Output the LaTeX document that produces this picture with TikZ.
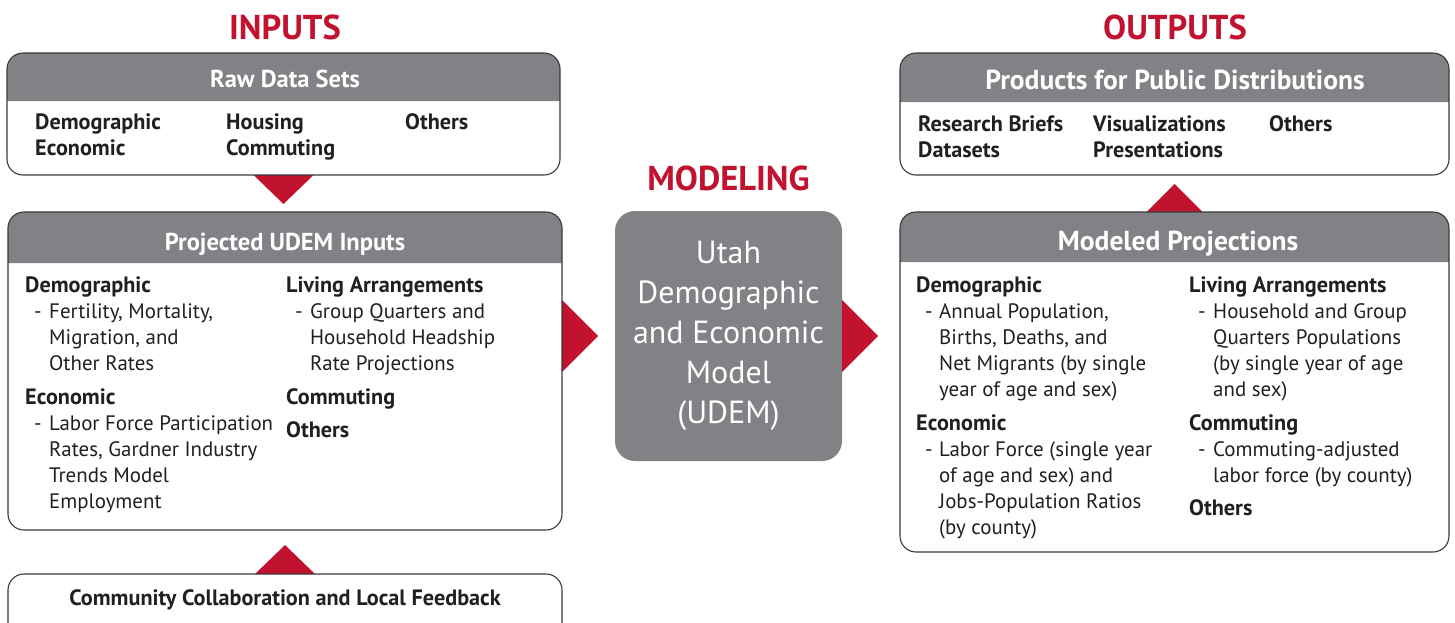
\documentclass[tikz,border=0pt]{standalone}
\usepackage{fontspec}
\setmainfont{PT Sans}
\usetikzlibrary{calc}

\definecolor{hdr}{HTML}{808285}
\definecolor{accent}{HTML}{C1132F}
\definecolor{ink}{HTML}{231F20}
\definecolor{edge}{HTML}{3A3A3A}

% header band with rounded top corners for a box node
\newcommand\headerbar[2]{%
  \fill[hdr] ([yshift=-#2pt]#1.north west) [rounded corners=16pt] -- (#1.north west)
    -- (#1.north east) [sharp corners] -- ([yshift=-#2pt]#1.north east) -- cycle;}
\newcommand\outline[1]{%
  \draw[edge, line width=1.1pt, rounded corners=16pt] (#1.north west) rectangle (#1.south east);}

\begin{document}
\begin{tikzpicture}[x=1pt,y=-1pt,
  box/.style={rectangle, rounded corners=16pt, fill=white, outer sep=0pt, inner sep=0pt},
  pointer/.style={fill=accent},
  title/.style={font=\fontsize{34.5}{38}\selectfont\bfseries, text=accent, anchor=base, inner sep=0pt},
  hdrtext/.style={font=\fontsize{24.5}{28}\selectfont\bfseries, text=white, anchor=base, inner sep=0pt},
  hdrwide/.style={hdrtext, font=\fontsize{27.5}{30}\selectfont\bfseries},
  lbl/.style={font=\fontsize{22.2}{26}\selectfont\bfseries, text=ink, anchor=base west, inner sep=0pt},
  txt/.style={font=\fontsize{20.9}{26}\selectfont, text=ink, anchor=base west, inner sep=0pt}]

\clip (0,0) rectangle (1455,622);

% ---- box bodies ----
\node[box, minimum width=553pt, minimum height=122pt] (raw) at (283.5,114) {};
\node[box, minimum width=554pt, minimum height=318pt] (proj) at (285,371) {};
\node[box, minimum width=554pt, minimum height=80pt] (comm) at (285,614) {};
\node[rectangle, rounded corners=20pt, fill=hdr, outer sep=0pt, inner sep=0pt,
      minimum width=227pt, minimum height=250pt, text=white, align=center,
      font=\fontsize{32}{40}\selectfont] (udem) at (728.5,336)
      {Utah\\Demographic\\and Economic\\Model\\(UDEM)};
\node[box, minimum width=549pt, minimum height=122pt] (prod) at (1174.5,114) {};
\node[box, minimum width=549pt, minimum height=340pt] (model) at (1174.5,382) {};

% ---- red pointers between boxes ----
\fill[pointer] ($(raw.south)+(-30,0)$) -- ($(raw.south)+(30,0)$) -- ($(raw.south)+(0,29)$) -- cycle;
\fill[pointer] ($(comm.north)+(-30,0)$) -- ($(comm.north)+(30,0)$) -- ($(comm.north)+(0,-29)$) -- cycle;
\fill[pointer] ($(proj.east |- udem.west)+(0,-36)$) -- ($(proj.east |- udem.west)+(0,36)$) -- ($(proj.east |- udem.west)+(36,0)$) -- cycle;
\fill[pointer] ($(udem.east)+(0,-36)$) -- ($(udem.east)+(0,36)$) -- ($(udem.east)+(36,0)$) -- cycle;
\fill[pointer] ($(model.north)+(-28,0)$) -- ($(model.north)+(28,0)$) -- ($(model.north)+(0,-28)$) -- cycle;

% ---- header bands and outlines ----
\headerbar{raw}{48}
\headerbar{proj}{51}
\headerbar{prod}{49}
\headerbar{model}{50}
\outline{raw}
\outline{proj}
\outline{comm}
\outline{prod}
\outline{model}

% ---- section titles ----
\node[title] (tin) at (285,39) {INPUTS};
\node[title] (tmod) at (728.5,190) {MODELING};
\node[title] (tout) at (1175,39) {OUTPUTS};

% ---- raw data sets ----
\node[hdrtext] (rawh) at (285,87) {Raw Data Sets};
\node[lbl] (raw1) at (35,129) {\vtop{\hbox{Demographic}\hbox{Economic}}};
\node[lbl] (raw2) at (226,129) {\vtop{\hbox{Housing}\hbox{Commuting}}};
\node[lbl] (raw3) at (405,129) {Others};

% ---- projected inputs ----
\node[hdrtext] (projh) at (285,250) {Projected UDEM Inputs};
\node[lbl] (pdem) at (25,292) {Demographic};
\node[txt] (pdemd) at (34,318) {-};
\node[txt] (pdemt) at (49,318) {\vtop{\hbox{Fertility, Mortality,}\hbox{Migration, and}\hbox{Other Rates}}};
\node[lbl] (peco) at (25,404) {Economic};
\node[txt] (pecod) at (34,430) {-};
\node[txt] (pecot) at (49,430) {\vtop{\hbox{Labor Force Participation}\hbox{Rates, Gardner Industry}\hbox{Trends Model}\hbox{Employment}}};
\node[lbl] (pliv) at (286,292) {Living Arrangements};
\node[txt] (plivd) at (295,318) {-};
\node[txt] (plivt) at (310,318) {\vtop{\hbox{Group Quarters and}\hbox{Household Headship}\hbox{Rate Projections}}};
\node[lbl] (pcom) at (286,404) {Commuting};
\node[lbl] (poth) at (286,437) {Others};

% ---- community feedback ----
\node[lbl, anchor=base] (commt) at (285,605) {Community Collaboration and Local Feedback};

% ---- products ----
\node[hdrwide] (prodh) at (1175,89) {Products for Public Distributions};
\node[lbl] (prod1) at (918,131) {\vtop{\hbox{Research Briefs}\hbox{Datasets}}};
\node[lbl] (prod2) at (1093,131) {\vtop{\hbox{Visualizations}\hbox{Presentations}}};
\node[lbl] (prod3) at (1269,131) {Others};

% ---- modeled projections ----
\node[hdrwide] (modh) at (1178,250) {Modeled Projections};
\node[lbl] (mdem) at (916,292) {Demographic};
\node[txt] (mdemd) at (925,318) {-};
\node[txt] (mdemt) at (939,318) {\vtop{\hbox{Annual Population,}\hbox{Births, Deaths, and}\hbox{Net Migrants (by single}\hbox{year of age and sex)}}};
\node[lbl] (meco) at (916,430) {Economic};
\node[txt] (mecod) at (925,456) {-};
\node[txt] (mecot) at (939,456) {\vtop{\hbox{Labor Force (single year}\hbox{of age and sex) and}\hbox{Jobs-Population Ratios}\hbox{(by county)}}};
\node[lbl] (mliv) at (1189,292) {Living Arrangements};
\node[txt] (mlivd) at (1198,318) {-};
\node[txt] (mlivt) at (1213,318) {\vtop{\hbox{Household and Group}\hbox{Quarters Populations}\hbox{(by single year of age}\hbox{and sex)}}};
\node[lbl] (mcom) at (1189,430) {Commuting};
\node[txt] (mcomd) at (1198,456) {-};
\node[txt] (mcomt) at (1213,456) {\vtop{\hbox{Commuting-adjusted}\hbox{labor force (by county)}}};
\node[lbl] (moth) at (1189,515) {Others};

\end{tikzpicture}
\end{document}
